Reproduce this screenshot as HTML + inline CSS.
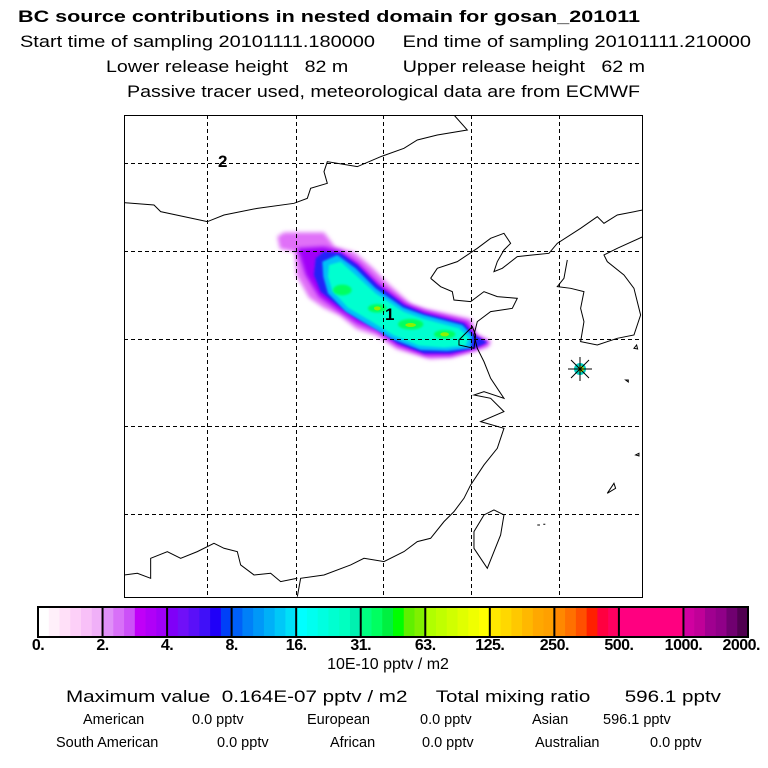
<!DOCTYPE html>
<html><head><meta charset="utf-8"><style>
html,body{margin:0;padding:0;background:#fff;}
body{width:768px;height:768px;position:relative;overflow:hidden;font-family:"Liberation Sans",Arial,sans-serif;}
svg{position:absolute;left:0;top:0;}
</style></head><body>
<svg width="768" height="768" viewBox="0 0 768 768">
<defs>
<filter id="blur" x="-20%" y="-20%" width="140%" height="140%"><feGaussianBlur stdDeviation="6"/></filter>
<filter id="blur2" x="-20%" y="-20%" width="140%" height="140%"><feGaussianBlur stdDeviation="3"/></filter>
<clipPath id="mapclip"><rect x="124" y="115" width="518" height="482"/></clipPath>
</defs>
<g font-family="Liberation Sans, Arial, sans-serif" fill="#000">
<text x="18" y="22" font-size="17" font-weight="bold" textLength="622" lengthAdjust="spacingAndGlyphs">BC  source contributions in nested domain for gosan_201011</text>
<text x="20" y="47" font-size="17" xml:space="preserve" textLength="731" lengthAdjust="spacingAndGlyphs">Start time of sampling 20101111.180000     End time of sampling 20101111.210000</text>
<text x="106" y="72" font-size="17" xml:space="preserve" textLength="539" lengthAdjust="spacingAndGlyphs">Lower release height   82 m          Upper release height   62 m</text>
<text x="127" y="97" font-size="17" textLength="513" lengthAdjust="spacingAndGlyphs">Passive tracer used, meteorological data are from ECMWF</text>
</g>
<g clip-path="url(#mapclip)">
<g transform="translate(124,115) scale(0.3333)">
<g>
<path filter="url(#blur)" fill="#e070f8" d="M460,365 L480,352 L600,352 L632,395 L692,412 L745,458 L795,508 L862,568 L905,582 L1042,612 L1058,658 L1102,678 L1092,697 L1052,708 L982,728 L918,732 L818,702 L758,662 L698,642 L648,602 L598,578 L555,548 L518,482 L512,410 L468,402 Z"/>
<path filter="url(#blur)" fill="#a000f8" d="M520,400 L600,395 L650,408 L705,445 L765,505 L845,565 L905,588 L1030,620 L1055,660 L1095,685 L1050,705 L980,722 L905,722 L820,692 L760,650 L700,625 L640,585 L585,545 L545,480 Z"/>
<path filter="url(#blur2)" fill="#2020f8" d="M575,430 L600,410 L650,415 L700,450 L760,510 L840,570 L900,595 L1020,625 L1050,660 L1090,682 L1050,700 L980,715 L900,715 L820,685 L760,640 L700,610 L640,570 L590,530 L570,480 Z"/>
<path filter="url(#blur2)" fill="#00c0f8" d="M595,440 L640,420 L695,460 L755,520 L838,578 L900,600 L1015,630 L1045,662 L1040,700 L970,708 L890,705 L805,672 L735,632 L665,590 L612,535 L598,485 Z"/>
<path filter="url(#blur2)" fill="#00ffd0" d="M615,450 L650,440 L695,480 L755,535 L838,590 L900,612 L1005,640 L1035,668 L1025,692 L960,698 L885,692 L808,660 L740,618 L672,578 L625,528 L612,485 Z"/>
<g filter="url(#blur2)" fill="#00ff60">
<ellipse cx="655" cy="525" rx="28" ry="16"/>
<ellipse cx="760" cy="580" rx="28" ry="13"/>
<ellipse cx="860" cy="628" rx="38" ry="16"/>
<ellipse cx="962" cy="658" rx="32" ry="13"/>
</g>
<g fill="#90f000">
<ellipse cx="760" cy="580" rx="10" ry="6"/>
<ellipse cx="860" cy="630" rx="16" ry="6"/>
<ellipse cx="962" cy="658" rx="13" ry="6"/>
</g>
</g>
<g fill="none" stroke="#000" stroke-width="3">
<path d="M0,263 L90,270 L110,290 L180,305 L250,320 L300,300 L400,280 L510,265 L550,250 L560,220 L610,205 L600,170 L610,140 L700,155 L770,125 L840,100 L880,75 L940,60 L1030,45 L990,0"/>
<path d="M920,490 L940,460 L1000,440 L1060,400 L1100,370 L1140,355 L1160,385 L1140,405 L1120,440 L1110,470 L1135,460 L1180,425 L1225,420 L1275,415 L1300,385 L1370,340 L1420,305 L1440,325 L1480,300 L1557,285"/>
<path d="M920,490 L950,515 L985,530 L990,555 L1040,560 L1080,530 L1120,545 L1180,550 L1165,580 L1100,590 L1060,620 L1050,660 L1060,700 L1080,740 L1100,790 L1140,850 L1080,830 L1050,840 L1100,850 L1140,890 L1070,920 L1140,940 L1120,1000 L1080,1050 L1040,1110 L1020,1150 L990,1190 L960,1220 L920,1270 L880,1280 L840,1310 L780,1340 L720,1330 L680,1350 L600,1380 L530,1390 L520,1445"/>
<path d="M1005,675 L1045,635 L1055,660 L1050,700 L1005,690 Z"/>
<path d="M0,1380 L40,1375 L80,1390 L80,1330 L130,1310 L170,1330 L220,1310 L270,1285 L300,1300 L340,1310 L350,1350 L390,1380 L440,1375 L470,1400 L520,1390"/>
<path d="M1110,1185 L1140,1200 L1130,1260 L1090,1360 L1050,1300 L1050,1250 L1080,1200 Z"/>
<path d="M1330,435 L1320,490 L1300,515 L1340,520 L1380,530 L1370,580 L1380,620 L1370,680 L1420,690 L1480,670 L1530,660 L1550,600 L1530,520 L1500,480 L1450,440 L1440,420 L1480,400 L1557,365"/>
<path d="M1470,1105 L1450,1135 L1475,1120 Z M1530,700 l8,-10 l3,12 z M1505,795 l8,0 l0,6 z M1535,1020 l10,-5 l0,8 z M1240,1230 l8,0 M1258,1228 l6,0"/>
</g>
</g>
<g stroke="#000" stroke-width="1" stroke-dasharray="4,3">
<line x1="207.5" y1="115" x2="207.5" y2="597"/><line x1="296.5" y1="115" x2="296.5" y2="597"/><line x1="383.5" y1="115" x2="383.5" y2="597"/><line x1="471.5" y1="115" x2="471.5" y2="597"/><line x1="559.5" y1="115" x2="559.5" y2="597"/>
<line x1="124" y1="163.5" x2="642" y2="163.5"/><line x1="124" y1="251.5" x2="642" y2="251.5"/><line x1="124" y1="339.5" x2="642" y2="339.5"/><line x1="124" y1="426.5" x2="642" y2="426.5"/><line x1="124" y1="514.5" x2="642" y2="514.5"/>
</g>
<g>
<circle cx="580" cy="369" r="6" fill="#00d0c0"/><circle cx="581" cy="369" r="3" fill="#c0f000"/>
<g stroke="#000" stroke-width="1"><line x1="568" y1="369" x2="592" y2="369"/><line x1="580" y1="357" x2="580" y2="381"/><line x1="571" y1="360" x2="589" y2="378"/><line x1="571" y1="378" x2="589" y2="360"/></g>
</g>
<text x="218" y="167" font-size="17" font-weight="bold" font-family="Liberation Sans, Arial, sans-serif">2</text>
<text x="385" y="320" font-size="17" font-weight="bold" font-family="Liberation Sans, Arial, sans-serif">1</text>
</g>
<rect x="124.5" y="115.5" width="518" height="482" fill="none" stroke="#000" stroke-width="1"/>
<g id="cbar"></g>
<g font-family="Liberation Sans, Arial, sans-serif" fill="#000">
<text x="388" y="669" font-size="16" text-anchor="middle">10E-10 pptv / m2</text>
<text x="66" y="702" font-size="17" xml:space="preserve" textLength="655" lengthAdjust="spacingAndGlyphs">Maximum value  0.164E-07 pptv / m2     Total mixing ratio      596.1 pptv</text>
<text x="83" y="724" font-size="14.5">American</text>
<text x="192" y="724" font-size="14.5">0.0 pptv</text>
<text x="307" y="724" font-size="14.5">European</text>
<text x="420" y="724" font-size="14.5">0.0 pptv</text>
<text x="532" y="724" font-size="14.5">Asian</text>
<text x="603" y="724" font-size="14.5">596.1 pptv</text>
<text x="56" y="747" font-size="14.5">South American</text>
<text x="217" y="747" font-size="14.5">0.0 pptv</text>
<text x="330" y="747" font-size="14.5">African</text>
<text x="422" y="747" font-size="14.5">0.0 pptv</text>
<text x="535" y="747" font-size="14.5">Australian</text>
<text x="650" y="747" font-size="14.5">0.0 pptv</text>
</g>
</svg>
<script>
const tickLabels = ["0.","2.","4.","8.","16.","31.","63.","125.","250.","500.","1000.","2000."];
const segColors = [
["#ffffff","#fff0fa","#ffe0f8","#fdd0f8","#f8c0f8","#f0b0f8"],
["#e090f8","#d870f8","#cc50f8","#c000f8","#b000f8","#a000f8"],
["#8000f8","#7010f8","#5a10f8","#4010f8","#2000f8","#0040f8"],
["#0060f8","#0080f8","#0098f8","#00b0f8","#00c8f8","#00e0f8"],
["#00ffff","#00fff0","#00ffe0","#00ffd0","#00ffc0","#00f0b0"],
["#00ff80","#00ff60","#00f040","#00ff00","#60f000","#80f000"],
["#b0ff00","#c0ff00","#d0ff00","#e0ff00","#f0ff00","#ffff00"],
["#ffe800","#ffd800","#ffc800","#ffb800","#ffa800","#ffa000"],
["#ff8800","#ff7000","#ff5000","#ff2000","#ff0040","#ff0060"],
["#ff0080","#ff0080","#ff0080","#ff0080","#ff0080","#ff0080"],
["#d000a0","#c00098","#a00090","#900088","#700070","#500050"]
];
const NS="http://www.w3.org/2000/svg";
const g=document.getElementById('cbar');
const x0=38, x1=748, y0=607, h=30;
const segW=(x1-x0)/segColors.length;
function xPos(i){return x0+i*segW;}
segColors.forEach((cols,i)=>{
  cols.forEach((c,j)=>{
    const r=document.createElementNS(NS,'rect');
    
    
    const w=segW/cols.length;
    r.setAttribute('x',xPos(i)+j*w);r.setAttribute('y',y0);
    r.setAttribute('width',w+0.6);r.setAttribute('height',h);r.setAttribute('fill',c);
    g.appendChild(r);
  });
});
for(let i=0;i<=segColors.length;i++){
  const l=document.createElementNS(NS,'line');
  
  
  l.setAttribute('x1',xPos(i));l.setAttribute('x2',xPos(i));
  l.setAttribute('y1',y0);l.setAttribute('y2',y0+h);
  l.setAttribute('stroke','#000');l.setAttribute('stroke-width','2');
  g.appendChild(l);
}
const fr=document.createElementNS(NS,'rect');


fr.setAttribute('x',x0);fr.setAttribute('y',y0);fr.setAttribute('width',x1-x0);fr.setAttribute('height',h);
fr.setAttribute('fill','none');fr.setAttribute('stroke','#000');fr.setAttribute('stroke-width','2');
g.appendChild(fr);
tickLabels.forEach((t,i)=>{
  const tx=document.createElementNS(NS,'text');
  
  
  const last = i===tickLabels.length-1;
  tx.setAttribute('x', last ? xPos(i)+12 : xPos(i));
  tx.setAttribute('y',650);
  tx.setAttribute('text-anchor', last?'end':'middle');
  tx.setAttribute('font-size','16');tx.setAttribute('font-weight','bold');
  tx.setAttribute('letter-spacing','-0.5');
  tx.setAttribute('font-family','Liberation Sans, Arial, sans-serif');
  tx.textContent=t;
  g.appendChild(tx);
});
</script>
</body></html>
